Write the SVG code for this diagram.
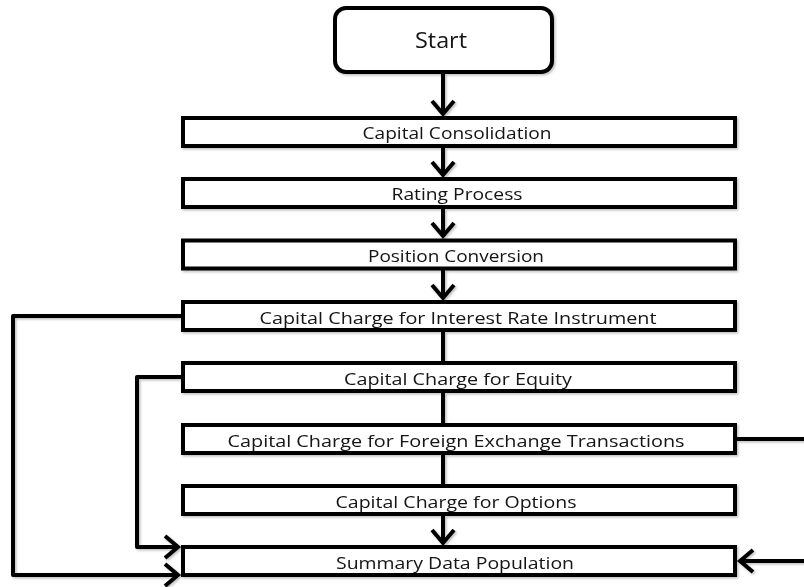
<svg xmlns="http://www.w3.org/2000/svg" width="804" height="587" viewBox="0 0 804 587">
<style>
  .box { fill: #fff; stroke: #000; stroke-width: 4; }
  .lbl { font-family: "Open Sans", "Liberation Sans", sans-serif; font-size: 17px; fill: #121212; text-anchor: middle; }
  .conn { fill: none; stroke: #000; stroke-width: 4; stroke-linejoin: round; }
  .arr { marker-end: url(#chev); }
</style>
<defs>
  <marker id="chev" markerUnits="userSpaceOnUse" orient="auto" refX="0" refY="0" markerWidth="30" markerHeight="30" viewBox="-16 -15 20 30" overflow="visible">
    <path d="M-13,-11 L0,0 L-13,11" fill="none" stroke="#000" stroke-width="4" stroke-linejoin="miter"/>
  </marker>
  <filter id="sh" x="-5%" y="-5%" width="110%" height="110%">
    <feDropShadow dx="1.5" dy="1.5" stdDeviation="1.2" flood-color="#000" flood-opacity="0.25"/>
  </filter>
</defs>
<g filter="url(#sh)">
<g id="connectors">
  <path class="conn arr" d="M443,72 V114"/>
  <path class="conn arr" d="M443,148 V175"/>
  <path class="conn arr" d="M443,209 V236"/>
  <path class="conn arr" d="M443,270 V298"/>
  <path class="conn" d="M443,330 V363"/>
  <path class="conn" d="M443,391 V425"/>
  <path class="conn" d="M443,453 V486"/>
  <path class="conn arr" d="M443,514 V543"/>
  <path class="conn arr" d="M183,316 H13 V575 H178"/>
  <path class="conn arr" d="M183,377 H137 V547 H178"/>
  <path class="conn" d="M735,439 H808"/>
  <path class="conn arr" d="M808,561 H740"/>
</g>
<g id="start">
  <rect class="box" x="335" y="8" width="217" height="64" rx="11"/>
  <text class="lbl" x="441" y="48" style="font-size:21px" textLength="52" lengthAdjust="spacingAndGlyphs">Start</text>
</g>
<g id="capital-consolidation">
  <rect class="box" x="183" y="118" width="552" height="28"/>
  <text class="lbl" x="457" y="139" textLength="189" lengthAdjust="spacingAndGlyphs">Capital Consolidation</text>
</g>
<g id="rating-process">
  <rect class="box" x="183" y="179" width="552" height="28"/>
  <text class="lbl" x="457" y="200" textLength="131" lengthAdjust="spacingAndGlyphs">Rating Process</text>
</g>
<g id="position-conversion">
  <rect class="box" x="183" y="240.5" width="552" height="28"/>
  <text class="lbl" x="456" y="261.5" textLength="176" lengthAdjust="spacingAndGlyphs">Position Conversion</text>
</g>
<g id="interest-rate">
  <rect class="box" x="183" y="302" width="552" height="28"/>
  <text class="lbl" x="458" y="323.5" textLength="397" lengthAdjust="spacingAndGlyphs">Capital Charge for Interest Rate Instrument</text>
</g>
<g id="equity">
  <rect class="box" x="183" y="363" width="552" height="28"/>
  <text class="lbl" x="458" y="384.5" textLength="228" lengthAdjust="spacingAndGlyphs">Capital Charge for Equity</text>
</g>
<g id="foreign-exchange">
  <rect class="box" x="183" y="425" width="552" height="28"/>
  <text class="lbl" x="456" y="446.5" textLength="457" lengthAdjust="spacingAndGlyphs">Capital Charge for Foreign Exchange Transactions</text>
</g>
<g id="options">
  <rect class="box" x="183" y="486" width="552" height="28"/>
  <text class="lbl" x="456" y="507.5" textLength="241" lengthAdjust="spacingAndGlyphs">Capital Charge for Options</text>
</g>
<g id="summary">
  <rect class="box" x="183" y="547" width="552" height="28"/>
  <text class="lbl" x="455" y="568.5" textLength="238" lengthAdjust="spacingAndGlyphs">Summary Data Population</text>
</g>
</g>
</svg>
